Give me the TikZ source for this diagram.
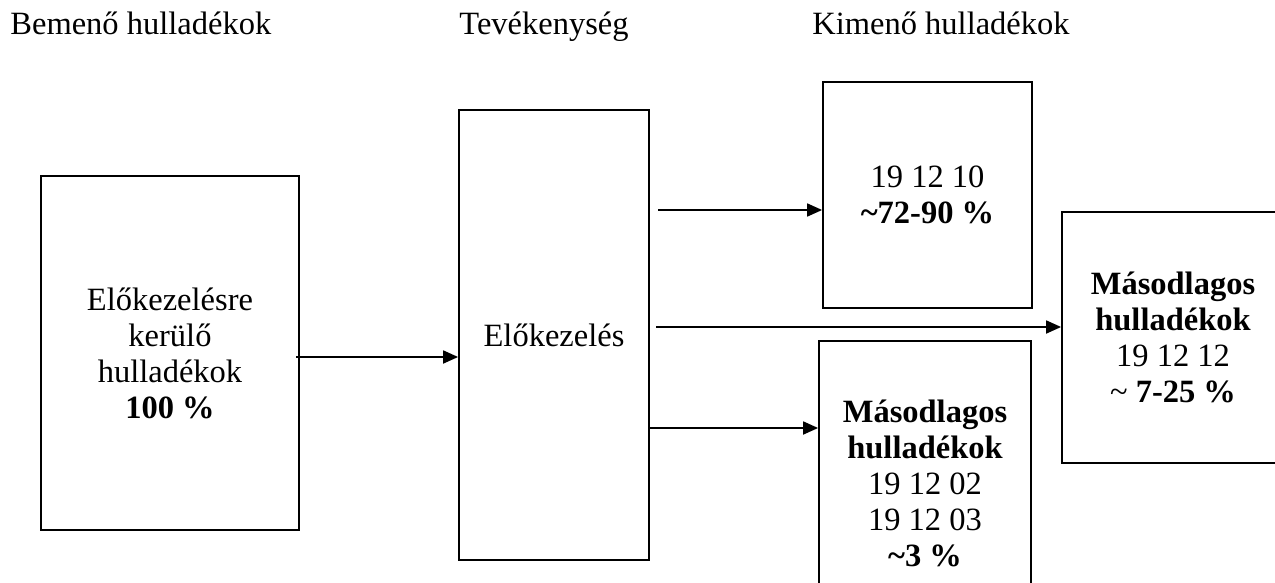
\documentclass[tikz,border=0pt]{standalone}
\usepackage{fontspec}
\setmainfont{Liberation Serif}
\usetikzlibrary{arrows.meta}
\begin{document}
\begin{tikzpicture}[x=0.5pt,y=-0.5pt,
  every node/.style={font=\fontsize{16.25pt}{18pt}\selectfont},
  box/.style={draw,line width=0.9pt,align=center,inner sep=0pt},
  title/.style={anchor=base west,inner sep=0pt},
  arr/.style={line width=0.9pt,-{Triangle[length=7.5pt,width=6.5pt]}}]
\clip (0,0) rectangle (1275,583);
\useasboundingbox (0,0) rectangle (1275,583);
% titles
\node[title] (t1) at (10,35) {Bemenő hulladékok};
\node[title] (t2) at (459,35) {Tevékenység};
\node[title] (t3) at (812,35) {Kimenő hulladékok};
% boxes
\node[box,minimum width=129pt,minimum height=177pt] (L) at (170,353)
  {Előkezelésre\\kerülő\\hulladékok\\\textbf{100 \%}};
\node[box,minimum width=95pt,minimum height=225pt] (C) at (554,335)
  {Előkezelés};
\node[box,minimum width=104.5pt,minimum height=113pt] (T) at (927.5,195)
  {19 12 10\\\textbf{\textasciitilde72-90 \%}};
\node[box,minimum width=106pt,minimum height=142pt] (B) at (925,483)
  {\textbf{Másodlagos}\\\textbf{hulladékok}\\19 12 02\\19 12 03\\\textbf{\textasciitilde3 \%}};
\node[box,minimum width=111pt,minimum height=125.5pt] (R) at (1173,337.5)
  {\textbf{Másodlagos}\\\textbf{hulladékok}\\19 12 12\\\textasciitilde{} \textbf{7-25 \%}};
% connectors
\coordinate (s0) at (296,357);
\coordinate (s1) at (658,210);
\coordinate (s2) at (656,327);
\coordinate (s3) at (648,428);
\draw[arr] (s0) -- (C.west |- s0);
\draw[arr] (s1) -- (T.west |- s1);
\draw[arr] (s2) -- (R.west |- s2);
\draw[arr] (s3) -- (B.west |- s3);
\end{tikzpicture}
\end{document}
